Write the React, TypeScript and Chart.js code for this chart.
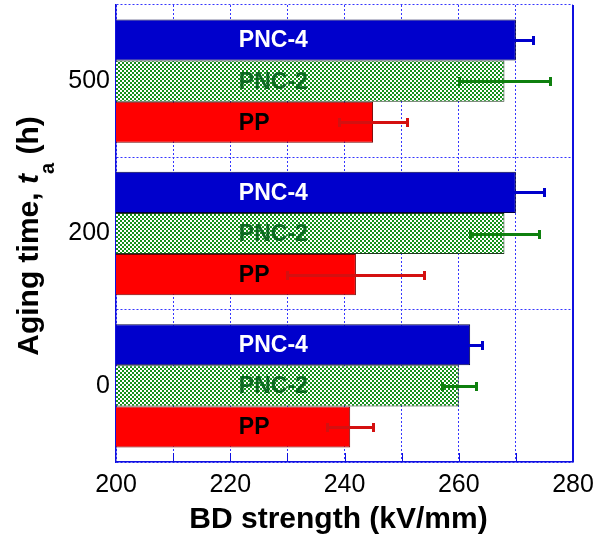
import React, { useEffect, useRef } from 'react';
import { Chart, registerables } from 'chart.js';

Chart.register(...registerables);

// ---- data ----
const categories = ['500', '200', '0'];
const seriesNames = ['PNC-4', 'PNC-2', 'PP'];
const pnc4Values = [270, 270, 262];
const pnc4Errors = [3, 5, 2];
const pnc2Values = [268, 268, 260];
const pnc2Errors = [8, 6, 3];
const ppValues = [245, 242, 241];
const ppErrors = [6, 12, 4];
const xMin = 200;
const xMax = 280;
const xStep = 10;
const xLabelStep = 20;
const labelStartValue = 221.5;
const xTitle = 'BD strength (kV/mm)';

// ---- styles ----
const FONT = '"Liberation Sans", Arial, Helvetica, sans-serif';
const GRID_BLUE = '#3535ff';
const AXIS_BLUE = '#1010e0';
const barFill = ['#0000cc', null, '#ff0000'];
const barBorder = ['#000040', '#203820', '#700000'];
const errColors = ['#0000cc', '#0f800f', '#d41010'];
const labelColors = ['#ffffff', '#0d6a22', '#000000'];

function makePattern(): CanvasPattern | string {
  const c = document.createElement('canvas');
  c.width = 4;
  c.height = 4;
  const g = c.getContext('2d');
  if (!g) return '#118811';
  g.fillStyle = '#ffffff';
  g.fillRect(0, 0, 4, 4);
  g.fillStyle = '#14901a';
  g.fillRect(0, 0, 2, 2);
  g.fillRect(2, 2, 2, 2);
  const p = g.createPattern(c, 'repeat');
  return p || '#118811';
}

export default function App() {
  const ref = useRef<HTMLCanvasElement | null>(null);

  useEffect(() => {
    const canvas = ref.current;
    if (!canvas) return;
    const values = [pnc4Values, pnc2Values, ppValues];
    const errors = [pnc4Errors, pnc2Errors, ppErrors];
    const pattern = makePattern();

    const overlay = {
      id: 'overlay',
      beforeDatasetsDraw(chart: any) {
        const { ctx, chartArea, scales } = chart;
        const xs = scales.x;
        ctx.save();
        ctx.fillStyle = AXIS_BLUE;
        for (let v = xMin + xStep; v < xMax; v += xStep) {
          const px = Math.round(xs.getPixelForValue(v));
          ctx.fillRect(px, chartArea.bottom - 9, 1, 9);
        }
        ctx.restore();
      },
      afterDatasetsDraw(chart: any) {
        const { ctx, scales } = chart;
        const xs = scales.x;
        ctx.save();
        // error bars (filled rectangles so no dash state can affect them)
        for (let d = 0; d < 3; d++) {
          const meta = chart.getDatasetMeta(d);
          meta.data.forEach((el: any, j: number) => {
            const v = values[d][j];
            const e = errors[d][j];
            const x1 = Math.round(xs.getPixelForValue(v - e));
            const x2 = Math.round(xs.getPixelForValue(v + e));
            const y = Math.round(el.y);
            ctx.fillStyle = errColors[d];
            ctx.fillRect(x1, y - 1, x2 - x1, 3);
            ctx.fillRect(x1 - 1, y - 4, 3, 9);
            ctx.fillRect(x2 - 1, y - 4, 3, 9);
          });
        }
        // labels
        ctx.font = `bold 23px ${FONT}`;
        ctx.textAlign = 'left';
        ctx.textBaseline = 'middle';
        for (let d = 0; d < 3; d++) {
          const meta = chart.getDatasetMeta(d);
          meta.data.forEach((el: any) => {
            ctx.fillStyle = labelColors[d];
            ctx.fillText(seriesNames[d], xs.getPixelForValue(labelStartValue), el.y + 1);
          });
        }
        ctx.restore();
      },
      afterDraw(chart: any) {
        const { ctx, chartArea } = chart;
        ctx.save();
        // right border
        ctx.fillStyle = AXIS_BLUE;
        ctx.fillRect(Math.round(chartArea.right) - 1, chartArea.top, 2, chartArea.bottom - chartArea.top);
        // x title
        ctx.fillStyle = '#000000';
        ctx.font = `bold 30px ${FONT}`;
        ctx.textAlign = 'center';
        ctx.textBaseline = 'alphabetic';
        ctx.fillText(xTitle, (chartArea.left + chartArea.right) / 2 - 6, 528);
        // y title
        const big = `bold 30px ${FONT}`;
        const bigIt = `italic bold 30px ${FONT}`;
        const sub = `bold 20px ${FONT}`;
        const parts: [string, string, number][] = [
          ['Aging time, ', big, 0],
          ['t', bigIt, 0],
          ['a', sub, 16],
          [' (h)', big, 0],
        ];
        let total = 0;
        const widths = parts.map(([t, f]) => {
          ctx.font = f;
          const w = ctx.measureText(t).width;
          total += w;
          return w;
        });
        ctx.translate(38, 236);
        ctx.rotate(-Math.PI / 2);
        ctx.textAlign = 'left';
        let x = -total / 2;
        parts.forEach(([t, f, dy], i) => {
          ctx.font = f;
          ctx.fillText(t, x, dy);
          x += widths[i];
        });
        ctx.restore();
      },
    };

    const chart = new Chart(canvas, {
      type: 'bar',
      data: {
        labels: categories,
        datasets: [0, 1, 2].map((d) => ({
          label: seriesNames[d],
          data: values[d],
          backgroundColor: d === 1 ? (pattern as any) : barFill[d],
          borderColor: barBorder[d],
          borderWidth: 1,
          borderSkipped: false,
          categoryPercentage: 0.81,
          barPercentage: 1.0,
        })),
      },
      options: {
        indexAxis: 'y',
        responsive: false,
        animation: false,
        devicePixelRatio: 1,
        layout: { padding: { top: 5, right: 31, left: 0, bottom: 0 } },
        plugins: {
          legend: { display: false },
          tooltip: { enabled: false },
        },
        scales: {
          x: {
            type: 'linear',
            min: xMin,
            max: xMax,
            afterFit: (s: any) => {
              s.height = 75;
              s.paddingLeft = 0;
              s.paddingRight = 0;
            },
            ticks: {
              stepSize: xStep,
              autoSkip: false,
              padding: 8,
              color: '#000000',
              font: { family: FONT, size: 25 },
              callback: (v: any) => (Number(v) % xLabelStep === 0 ? String(v) : ''),
            },
            grid: { color: GRID_BLUE, lineWidth: 1, drawTicks: false },
            border: { display: true, color: AXIS_BLUE, width: 1.5, dash: [2, 2] },
          },
          y: {
            type: 'category',
            afterFit: (s: any) => {
              s.width = 116;
              s.paddingTop = 0;
              s.paddingBottom = 0;
            },
            ticks: {
              padding: 6,
              color: '#000000',
              font: { family: FONT, size: 25 },
            },
            grid: { color: GRID_BLUE, lineWidth: 1, drawTicks: false, offset: true },
            border: { display: true, color: AXIS_BLUE, width: 1.5, dash: [2, 2] },
          },
        },
      },
      plugins: [overlay],
    } as any);

    return () => {
      chart.destroy();
    };
  }, []);

  return (
    <div style={{ position: 'absolute', left: 0, top: 0, width: 604, height: 537, background: '#ffffff' }}>
      <canvas ref={ref} width={604} height={537} />
    </div>
  );
}
